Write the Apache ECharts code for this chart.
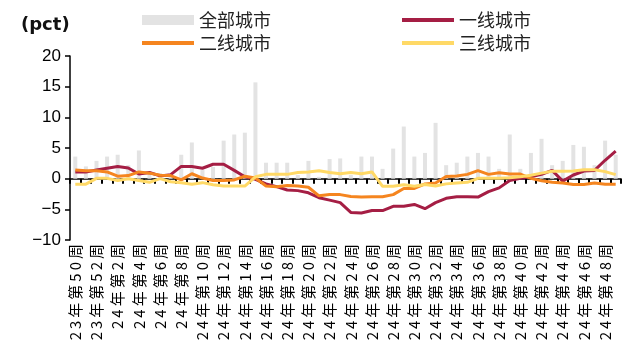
<!DOCTYPE html>
<html>
<head>
<meta charset="utf-8">
<script src="https://cdn.jsdelivr.net/npm/echarts@6/dist/echarts.min.js"></script>
<style>
html, body { margin: 0; padding: 0; background: #fff; }
#main { width: 622px; height: 356px; }
</style>
</head>
<body>
<div id="main"></div>
<script>
var weeks = ['23年第50周', '23年第51周', '23年第52周',
	'24年第1周', '24年第2周', '24年第3周', '24年第4周', '24年第5周', '24年第6周', '24年第7周', '24年第8周',
	'24年第9周', '24年第10周', '24年第11周', '24年第12周', '24年第13周', '24年第14周', '24年第15周', '24年第16周',
	'24年第17周', '24年第18周', '24年第19周', '24年第20周', '24年第21周', '24年第22周', '24年第23周', '24年第24周',
	'24年第25周', '24年第26周', '24年第27周', '24年第28周', '24年第29周', '24年第30周', '24年第31周', '24年第32周',
	'24年第33周', '24年第34周', '24年第35周', '24年第36周', '24年第37周', '24年第38周', '24年第39周', '24年第40周',
	'24年第41周', '24年第42周', '24年第43周', '24年第44周', '24年第45周', '24年第46周', '24年第47周', '24年第48周',
	'24年第49周'];

// 全部城市
var allCity = [3.6, 2.0, 2.9, 3.6, 3.9, 2.2, 4.6, 1.0, 0.9, 0.8, 3.9, 5.9, 1.4,
	1.9, 6.2, 7.2, 7.5, 15.7, 2.6, 2.6, 2.6, 0.6, 2.9, 0.3, 3.2, 3.3,
	0.6, 3.6, 3.6, 1.6, 4.9, 8.5, 3.6, 4.2, 9.1, 2.2, 2.6, 3.6, 4.2,
	3.6, 1.6, 7.2, 1.6, 4.2, 6.5, 2.2, 2.9, 5.5, 5.2, 2.2, 6.2, 3.9];
// 一线城市
var tier1 = [1.1, 1.1, 1.4, 1.7, 2.0, 1.75, 0.75, 1.0, 0.45, 0.65, 2.0, 2.0, 1.7,
	2.35, 2.35, 1.35, 0.3, -0.1, -0.85, -1.3, -1.85, -1.95, -2.3, -3.1, -3.5, -3.9,
	-5.5, -5.6, -5.2, -5.2, -4.5, -4.5, -4.2, -4.9, -3.9, -3.2, -2.95, -2.95, -3.0,
	-2.1, -1.5, -0.3, 0.05, 0.3, 0.7, 1.35, -0.4, 0.6, 1.25, 1.35, 3.0, 4.5];
// 二线城市
var tier2 = [1.4, 1.3, 1.3, 1.1, 0.4, 0.5, 1.1, 0.9, 0.55, 0.5, -0.2, 0.8, 0.1,
	-0.3, -0.3, -0.2, 0.4, 0.1, -1.2, -1.3, -1.1, -1.2, -1.4, -2.8, -2.6, -2.6,
	-2.9, -3.0, -2.95, -2.95, -2.6, -1.6, -1.6, -0.85, -0.7, 0.35, 0.45, 0.7, 1.3,
	0.7, 0.95, 0.75, 0.75, 0.05, -0.35, -0.6, -0.7, -0.95, -0.95, -0.7, -0.9, -0.9];
// 三线城市
var tier3 = [-0.9, -0.9, 0.05, 0.05, -0.3, 0.0, -0.3, -0.6, 0.0, -0.5, -0.65, -0.9, -0.65,
	-1.0, -1.2, -1.2, -1.2, 0.3, 0.7, 0.7, 0.7, 1.0, 1.1, 1.3, 1.0, 0.8,
	1.0, 0.8, 1.1, -1.25, -1.25, -1.0, -1.25, -0.95, -1.2, -0.85, -0.7, -0.6, 0.05,
	0.05, 0.05, 0.15, 0.3, 0.55, 0.9, 1.2, 1.2, 1.25, 1.45, 1.45, 1.15, 0.65];

var yTicks = { min: -10, max: 20, interval: 5 };

var chart = echarts.init(document.getElementById('main'));

var legendText = {
	color: '#222',
	fontSize: 18,
	fontFamily: 'Noto Sans CJK SC',
	lineHeight: 20
};
// 线条图例: 细长矩形,不带圆点
var lineIcon = 'path://M0,0L52,0L52,4L0,4Z';

var option = {
	animation: false,
	backgroundColor: '#fff',
	graphic: [{
		type: 'text',
		left: 21,
		top: 16,
		style: {
			text: '(pct)',
			fontSize: 18,
			fontWeight: 'bold',
			fontFamily: 'DejaVu Sans',
			fill: '#111'
		}
	}],
	legend: [{
		orient: 'vertical',
		left: 137,
		top: 5,
		itemWidth: 52,
		itemHeight: 10,
		itemGap: 3,
		symbolKeepAspect: true,
		textStyle: legendText,
		data: [{ name: '全部城市', icon: 'rect' }, { name: '二线城市', icon: lineIcon }]
	}, {
		orient: 'vertical',
		left: 397,
		top: 5,
		itemWidth: 52,
		itemHeight: 10,
		itemGap: 3,
		symbolKeepAspect: true,
		textStyle: legendText,
		data: [{ name: '一线城市', icon: lineIcon }, { name: '三线城市', icon: lineIcon }]
	}],
	grid: {
		left: 70,
		right: 1,
		top: 56,
		bottom: 116,
		containLabel: false
	},
	xAxis: [{
		type: 'category',
		data: weeks,
		boundaryGap: true,
		axisLine: {
			onZero: true,
			lineStyle: { color: '#000', width: 1.5 }
		},
		axisTick: {
			show: true,
			interval: 0,
			length: 5,
			lineStyle: { color: '#000', width: 2 }
		},
		axisLabel: { show: false }
	}, {
		type: 'category',
		data: weeks,
		position: 'bottom',
		axisLine: { show: false, onZero: false },
		axisTick: { show: false },
		axisLabel: {
			interval: 1,
			rotate: 90,
			margin: 4,
			color: '#000',
			fontSize: 15,
			fontFamily: 'Noto Sans CJK SC',
			// 原图标签字距较宽
			formatter: function (v) { return v.split('').join('\u2009'); }
		}
	}],
	yAxis: {
		type: 'value',
		min: yTicks.min,
		max: yTicks.max,
		interval: yTicks.interval,
		splitLine: { show: false },
		axisLine: {
			show: true,
			lineStyle: { color: '#000', width: 1.5 }
		},
		axisTick: {
			show: true,
			length: 5,
			lineStyle: { color: '#000', width: 1.5 }
		},
		axisLabel: {
			color: '#000',
			fontSize: 17,
			fontFamily: 'Liberation Sans',
			margin: 9,
			formatter: function (v) { return v < 0 ? '\u2212' + (-v) : v; }
		}
	},
	series: [{
		name: '全部城市',
		type: 'bar',
		data: allCity,
		barWidth: 4,
		itemStyle: { color: '#E3E3E3' }
	}, {
		name: '一线城市',
		type: 'line',
		data: tier1,
		symbol: 'none',
		lineStyle: { color: '#A51E44', width: 3 },
		itemStyle: { color: '#A51E44' }
	}, {
		name: '二线城市',
		type: 'line',
		data: tier2,
		symbol: 'none',
		lineStyle: { color: '#F5851F', width: 3 },
		itemStyle: { color: '#F5851F' }
	}, {
		name: '三线城市',
		type: 'line',
		data: tier3,
		symbol: 'none',
		lineStyle: { color: '#FFD966', width: 3 },
		itemStyle: { color: '#FFD966' }
	}]
};

chart.setOption(option);
</script>
</body>
</html>
